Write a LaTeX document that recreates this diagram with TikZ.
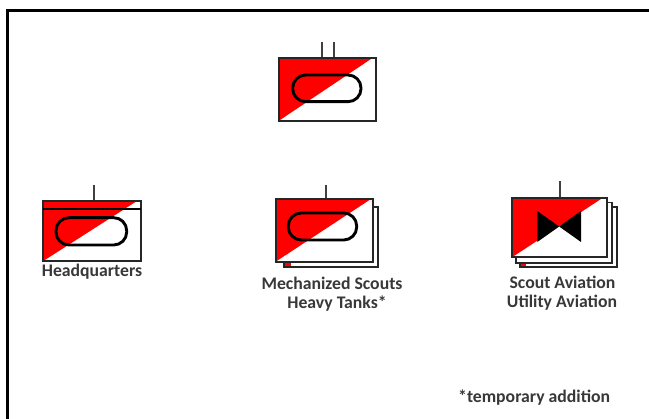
\documentclass[tikz,border=0pt]{standalone}
\usepackage{fontspec}
\setmainfont{Carlito}
\definecolor{ured}{RGB}{255,0,0}
\tikzset{
  x=1pt,y=-1pt,
  frame/.style={draw=black,line width=3.3pt},
  unitbox/.style={draw=black!85,line width=1.9pt,fill=white},
  redpart/.style={fill=ured},
  oval/.style={draw=black,line width=2.9pt,rounded corners=13pt},
  tick/.style={draw=black!75,line width=1.6pt},
  caption/.style={font=\bfseries\fontsize{17.7pt}{19pt}\selectfont,text=black!78,inner sep=0pt,align=center}
}
\newcommand{\unitflag}[5]{% left top right bottom diagonal-top-x
  \fill[redpart] (#1,#2) -- (#5,#2) -- (#1,#4) -- cycle;
  \draw[unitbox,fill=none] (#1,#2) rectangle (#3,#4);
}
\begin{document}
\begin{tikzpicture}
\useasboundingbox (0,0) rectangle (649,419);
\fill[white] (0,0) rectangle (649,419);
\draw[frame] (7.4,425) -- (7.4,10.6) -- (655,10.6);

% top
\draw[tick] (321.7,42) -- (321.7,58);
\draw[tick] (333.7,42) -- (333.7,58);
\unitflag{279}{58.3}{376}{120.7}{372}
\draw[oval] (292.7,75) rectangle (361,101.7);

% headquarters
\draw[tick] (93.7,185) -- (93.7,201);
\unitflag{43.3}{201}{140.7}{261}{137}
\draw[draw=black,line width=1.5pt] (43.3,209) -- (140.7,209);
\draw[oval] (56,217.7) rectangle (126.7,245);
\node[caption] (hq) at (92,272) {Headquarters};

% mechanized
\draw[tick] (326,185) -- (326,199);
\draw[unitbox] (284,207) rectangle (378,267);
\fill[redpart] (285,262) rectangle (291,266);
\fill[white] (275.7,199) rectangle (372.7,261.7);
\unitflag{275.7}{199}{372.7}{261.7}{371}
\draw[oval] (288.3,213) rectangle (356.7,240);
\node[caption] (ms) at (332,283) {Mechanized Scouts};
\node[caption] (ht) at (337,303.5) {Heavy Tanks*};

% aviation
\draw[tick] (559.7,181) -- (559.7,198);
\draw[unitbox] (520,206.7) rectangle (616.7,267.3);
\fill[redpart] (521,262) rectangle (526,266);
\draw[unitbox] (516,202.5) rectangle (611.7,262.7);
\fill[white] (512,197.7) rectangle (606.7,257.3);
\unitflag{512}{197.7}{606.7}{257.3}{603}
\fill[black] (537.3,211) -- (581,242) -- (581,211) -- (537.3,242) -- cycle;
\node[caption] (sa) at (562.5,282) {Scout Aviation};
\node[caption] (ua) at (562,303) {Utility Aviation};

\node[caption,anchor=west] (ta) at (458,397.5) {*temporary addition};
\end{tikzpicture}
\end{document}
